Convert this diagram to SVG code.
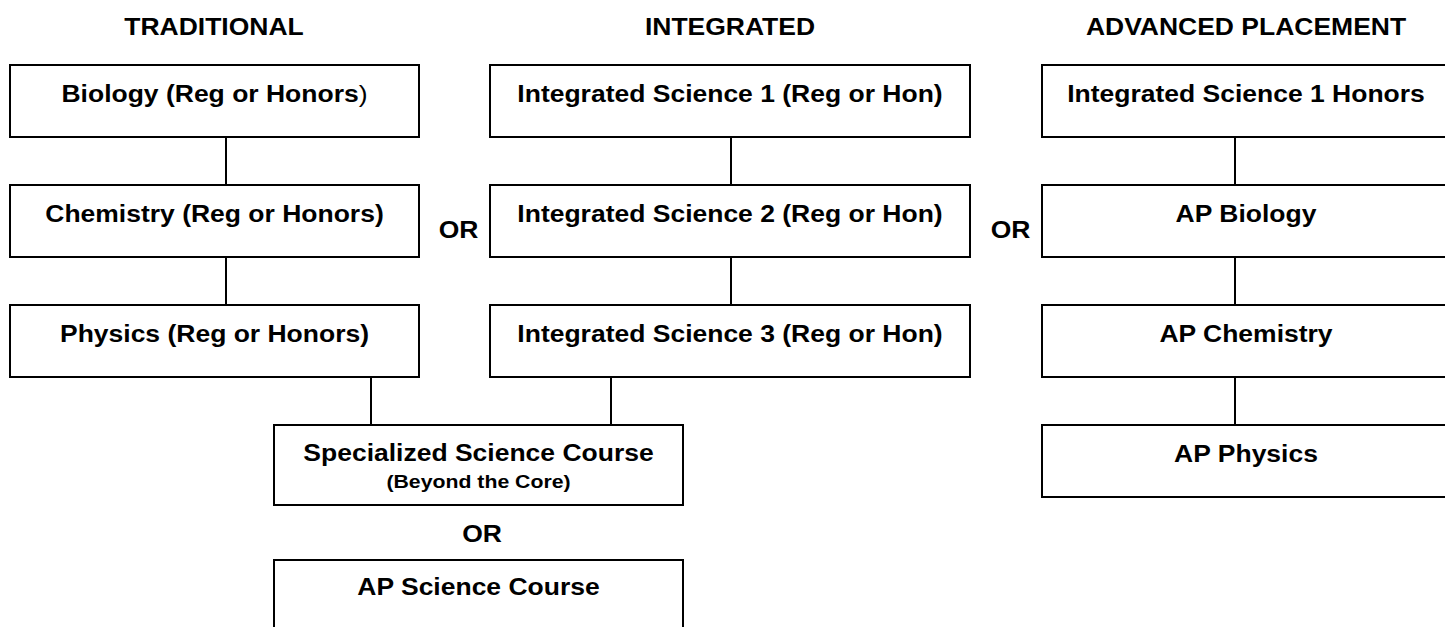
<svg xmlns="http://www.w3.org/2000/svg" width="1445" height="627" viewBox="0 0 1445 627">
<style>
.bg{fill:#ffffff}
.box{fill:#ffffff;stroke:#000000;stroke-width:2}
.ln{stroke:#000000;stroke-width:2;fill:none}
.t{font-family:"Liberation Sans",Arial,sans-serif;font-weight:bold;font-size:23.3px;text-anchor:middle;fill:#000000}
.s{font-family:"Liberation Sans",Arial,sans-serif;font-weight:bold;font-size:18.7px;text-anchor:middle;fill:#000000}
.n{font-weight:normal}
</style>
<rect class="bg" x="0" y="0" width="1445" height="627"/>
<g id="headers">
<text class="t" transform="translate(214,35) scale(1.137,1)">TRADITIONAL</text>
<text class="t" transform="translate(730,35) scale(1.137,1)">INTEGRATED</text>
<text class="t" transform="translate(1246,35) scale(1.137,1)">ADVANCED PLACEMENT</text>
</g>
<g id="connectors">
<line class="ln" x1="226" y1="137" x2="226" y2="185"/>
<line class="ln" x1="226" y1="257" x2="226" y2="305"/>
<line class="ln" x1="731" y1="137" x2="731" y2="185"/>
<line class="ln" x1="731" y1="257" x2="731" y2="305"/>
<line class="ln" x1="1235" y1="137" x2="1235" y2="185"/>
<line class="ln" x1="1235" y1="257" x2="1235" y2="305"/>
<line class="ln" x1="1235" y1="377" x2="1235" y2="425"/>
<line class="ln" x1="371" y1="377" x2="371" y2="425"/>
<line class="ln" x1="611" y1="377" x2="611" y2="425"/>
</g>
<g id="biology"><rect class="box" x="10" y="65" width="409" height="72"/><text class="t" transform="translate(214.5,102) scale(1.137,1)">Biology (Reg or Honors<tspan class="n">)</tspan></text></g>
<g id="chemistry"><rect class="box" x="10" y="185" width="409" height="72"/><text class="t" transform="translate(214.5,222) scale(1.137,1)">Chemistry (Reg or Honors)</text></g>
<g id="physics"><rect class="box" x="10" y="305" width="409" height="72"/><text class="t" transform="translate(214.5,342) scale(1.137,1)">Physics (Reg or Honors)</text></g>
<g id="is1"><rect class="box" x="490" y="65" width="480" height="72"/><text class="t" transform="translate(730,102) scale(1.137,1)">Integrated Science 1 (Reg or Hon)</text></g>
<g id="is2"><rect class="box" x="490" y="185" width="480" height="72"/><text class="t" transform="translate(730,222) scale(1.137,1)">Integrated Science 2 (Reg or Hon)</text></g>
<g id="is3"><rect class="box" x="490" y="305" width="480" height="72"/><text class="t" transform="translate(730,342) scale(1.137,1)">Integrated Science 3 (Reg or Hon)</text></g>
<g id="is1h"><rect class="box" x="1042" y="65" width="410" height="72"/><text class="t" transform="translate(1246,102) scale(1.137,1)">Integrated Science 1 Honors</text></g>
<g id="apbio"><rect class="box" x="1042" y="185" width="410" height="72"/><text class="t" transform="translate(1246,222) scale(1.137,1)">AP Biology</text></g>
<g id="apchem"><rect class="box" x="1042" y="305" width="410" height="72"/><text class="t" transform="translate(1246,342) scale(1.137,1)">AP Chemistry</text></g>
<g id="apphys"><rect class="box" x="1042" y="425" width="410" height="72"/><text class="t" transform="translate(1246,462) scale(1.137,1)">AP Physics</text></g>
<g id="specialized"><rect class="box" x="274" y="425" width="409" height="80"/><text class="t" transform="translate(478.5,461) scale(1.137,1)">Specialized Science Course</text><text class="s" transform="translate(478.5,488) scale(1.137,1)">(Beyond the Core)</text></g>
<g id="apscience"><rect class="box" x="274" y="560" width="409" height="80"/><text class="t" transform="translate(478.5,595) scale(1.137,1)">AP Science Course</text></g>
<g id="or-labels">
<text class="t" transform="translate(458.5,238) scale(1.137,1)">OR</text>
<text class="t" transform="translate(1010.5,238) scale(1.137,1)">OR</text>
<text class="t" transform="translate(482,542) scale(1.137,1)">OR</text>
</g>
</svg>
